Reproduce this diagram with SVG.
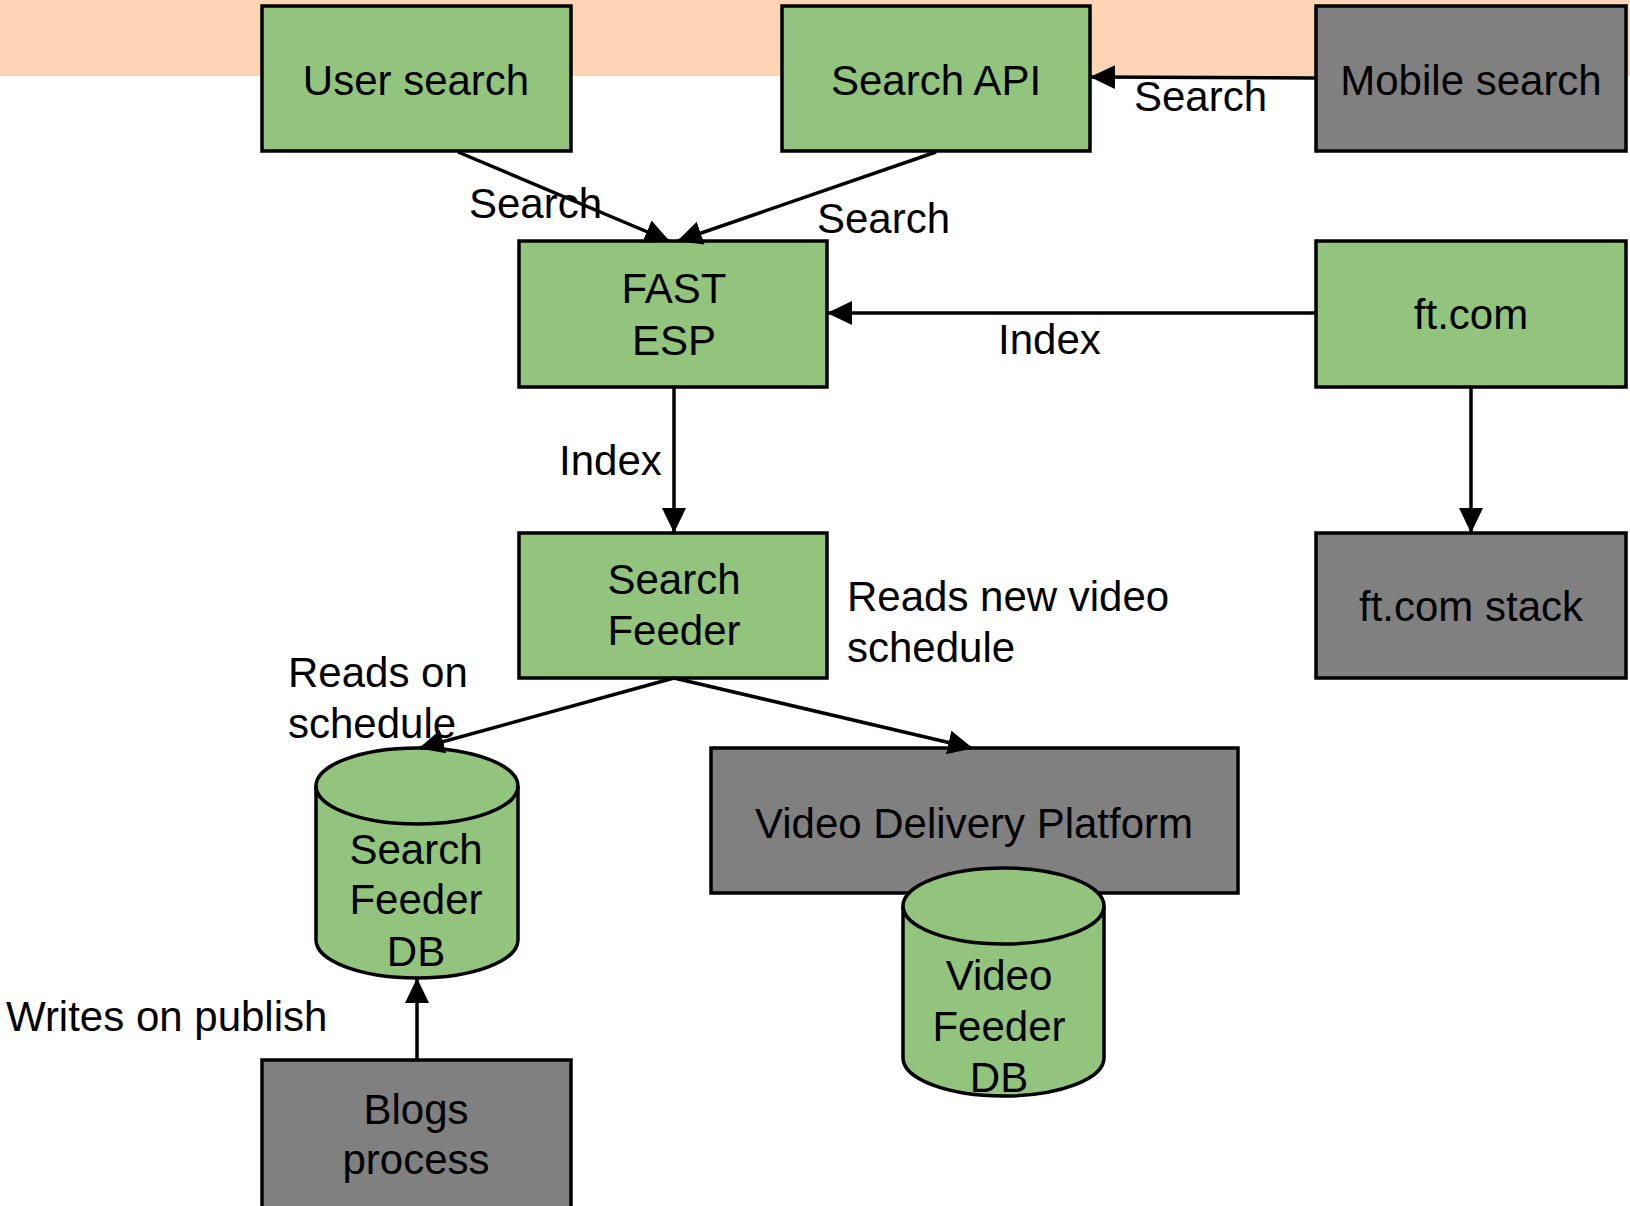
<svg xmlns="http://www.w3.org/2000/svg" width="1630" height="1206" viewBox="0 0 1630 1206">
<style>
.g{fill:#93c47d;stroke:#000;stroke-width:3.5}
.k{fill:#808080;stroke:#000;stroke-width:3.5}
text{font-family:"Liberation Sans",Arial,sans-serif;font-size:42px;fill:#000}
.c{text-anchor:middle}
.e{fill:none;stroke:#000;stroke-width:3.5}
</style>
<defs>
<marker id="ah" markerUnits="userSpaceOnUse" markerWidth="26" markerHeight="26" viewBox="0 0 26 26" refX="24" refY="13" orient="auto">
<path d="M0,1 L25,13 L0,25 Z" fill="#000"/>
</marker>
</defs>
<rect x="0" y="0" width="1630" height="76" fill="#fcd5b5"/>
<g id="user-search"><rect class="g" x="262" y="6" width="309" height="145"/><text class="c" x="416" y="95">User search</text></g>
<g id="search-api"><rect class="g" x="782" y="6" width="308" height="145"/><text class="c" x="936" y="95">Search API</text></g>
<g id="mobile-search"><rect class="k" x="1316" y="6" width="310" height="145"/><text class="c" x="1471" y="95">Mobile search</text></g>
<g id="fast-esp"><rect class="g" x="519" y="241" width="308" height="146"/><text class="c" x="674" y="303">FAST</text><text class="c" x="674" y="355">ESP</text></g>
<g id="ftcom"><rect class="g" x="1316" y="241" width="310" height="146"/><text class="c" x="1471" y="329">ft.com</text></g>
<g id="search-feeder"><rect class="g" x="519" y="533" width="308" height="145"/><text class="c" x="674" y="594">Search</text><text class="c" x="674" y="645">Feeder</text></g>
<g id="ftcom-stack"><rect class="k" x="1316" y="533" width="310" height="145"/><text class="c" x="1471" y="621">ft.com stack</text></g>
<g id="video-delivery-platform"><rect class="k" x="711" y="748" width="527" height="145"/><text class="c" x="974" y="838">Video Delivery Platform</text></g>
<g id="search-feeder-db"><path class="g" d="M316,786 A101,38 0 0 1 518,786 L518,940 A101,38 0 0 1 316,940 Z"/><path class="e" d="M316,786 A101,38 0 0 0 518,786"/><text class="c" x="416" y="864">Search</text><text class="c" x="416" y="914">Feeder</text><text class="c" x="416" y="966">DB</text></g>
<g id="video-feeder-db"><path class="g" d="M903,906 A100.5,38 0 0 1 1104,906 L1104,1058 A100.5,38 0 0 1 903,1058 Z"/><path class="e" d="M903,906 A100.5,38 0 0 0 1104,906"/><text class="c" x="999" y="990">Video</text><text class="c" x="999" y="1041">Feeder</text><text class="c" x="999" y="1092">DB</text></g>
<g id="blogs-process"><rect class="k" x="262" y="1060" width="309" height="150"/><text class="c" x="416" y="1124">Blogs</text><text class="c" x="416" y="1174">process</text></g>
<g id="connectors">
<line class="e" x1="458" y1="152" x2="669" y2="241" marker-end="url(#ah)"/>
<line class="e" x1="936" y1="152" x2="678" y2="241" marker-end="url(#ah)"/>
<line class="e" x1="1316" y1="78" x2="1091" y2="77" marker-end="url(#ah)"/>
<line class="e" x1="1316" y1="313" x2="828" y2="313" marker-end="url(#ah)"/>
<line class="e" x1="674" y1="387" x2="674" y2="532" marker-end="url(#ah)"/>
<line class="e" x1="1471" y1="387" x2="1471" y2="532" marker-end="url(#ah)"/>
<line class="e" x1="674" y1="678" x2="420" y2="748" marker-end="url(#ah)"/>
<line class="e" x1="674" y1="678" x2="972" y2="748" marker-end="url(#ah)"/>
<line class="e" x1="417" y1="1060" x2="417" y2="979" marker-end="url(#ah)"/>
<text x="1134" y="111">Search</text>
<text x="469" y="218">Search</text>
<text x="817" y="233">Search</text>
<text x="998" y="354">Index</text>
<text x="559" y="475">Index</text>
<text x="847" y="611">Reads new video</text>
<text x="847" y="662">schedule</text>
<text x="288" y="687">Reads on</text>
<text x="288" y="738">schedule</text>
<text x="6" y="1031">Writes on publish</text>
</g>
</svg>
